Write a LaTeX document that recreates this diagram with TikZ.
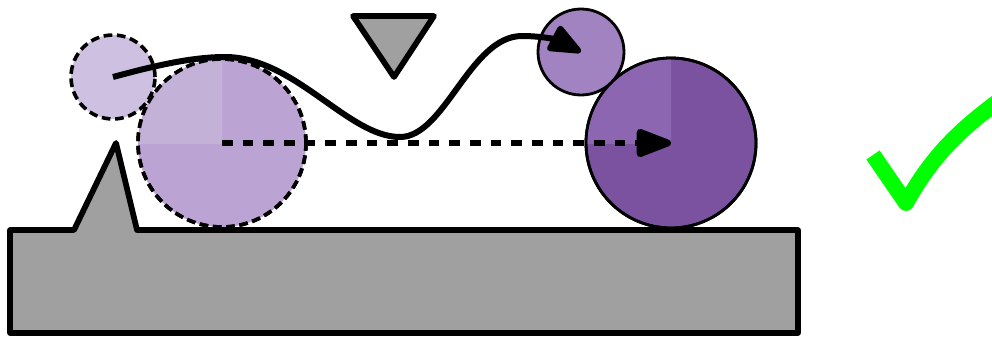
\documentclass[tikz,border=0pt]{standalone}
\usetikzlibrary{arrows.meta}
\definecolor{basegray}{HTML}{A0A0A0}
\definecolor{ghostsmall}{HTML}{CDC0E0}
\definecolor{ghostbig}{HTML}{BBA4D3}
\definecolor{ghostbiglight}{HTML}{C4B1D8}
\definecolor{realsmall}{HTML}{A183C1}
\definecolor{realbig}{HTML}{7A52A0}
\definecolor{realbiglight}{HTML}{8D66B1}
\definecolor{checkgreen}{HTML}{00FF00}
\begin{document}
\begin{tikzpicture}[x=0.75pt,y=-0.75pt,
  solidshape/.style={draw=black,fill=basegray,line width=4.3pt,line join=round},
  ghostball/.style={circle,inner sep=0pt,draw=black,line width=2.7pt,dash pattern=on 6.5pt off 3.5pt},
  realball/.style={circle,inner sep=0pt,draw=black,line width=2.1pt},
  pathline/.style={line width=4.5pt,-{Triangle[length=28pt,width=22pt,round]}},
  dotline/.style={line width=5.2pt,dash pattern=on 8pt off 7.5pt,-{Triangle[length=31pt,width=22pt,round]}},
  checkline/.style={draw=checkgreen,line width=12pt,line join=round,line cap=butt}]
\useasboundingbox (0,0) rectangle (992,336);

% base with spike
\draw[solidshape] (10,333) -- (10,230) -- (74,230) -- (116,143) -- (137,230) -- (798,230) -- (798,333) -- cycle;

% ghost balls
\node[ghostball,fill=ghostbig,minimum size=126pt] (B) at (222,143) {};
\begin{scope}
  \clip (B.center) rectangle ++(-100,-100);
  \fill[ghostbiglight] (B.center) circle[radius=62pt];
\end{scope}
\node[ghostball,minimum size=126pt] at (222,143) {};
\node[ghostball,fill=ghostsmall,minimum size=63pt] (A) at (113,77) {};

% tool triangle
\draw[solidshape] (353,16) -- (434,16) -- (394,77) -- cycle;

% real balls
\node[realball,fill=realbig,minimum size=127.5pt] (D) at (671,143) {};
\begin{scope}
  \clip (D.center) rectangle ++(-100,-100);
  \fill[realbiglight] (D.center) circle[radius=62.8pt];
\end{scope}
\node[realball,minimum size=127.5pt] at (671,143) {};
\node[realball,fill=realsmall,minimum size=64.5pt] (C) at (581,52) {};

% arrows
\draw[dotline] (B.center) -- (D.center);
\coordinate (p1) at (225,57);
\coordinate (t1) at (400,137);
\coordinate (p2) at (522,36);
\draw[pathline] (A.center) .. controls (150,67) and (190,57) .. (p1)
  .. controls (295,57) and (348,137) .. (t1)
  .. controls (445,137) and (470,36) .. (p2)
  .. controls (545,36) and (560,41) .. (C.center);

% check mark
\draw[checkline] (873,155) -- (906,203) .. controls (930,160) and (955,133) .. (1000,100);
\end{tikzpicture}
\end{document}
